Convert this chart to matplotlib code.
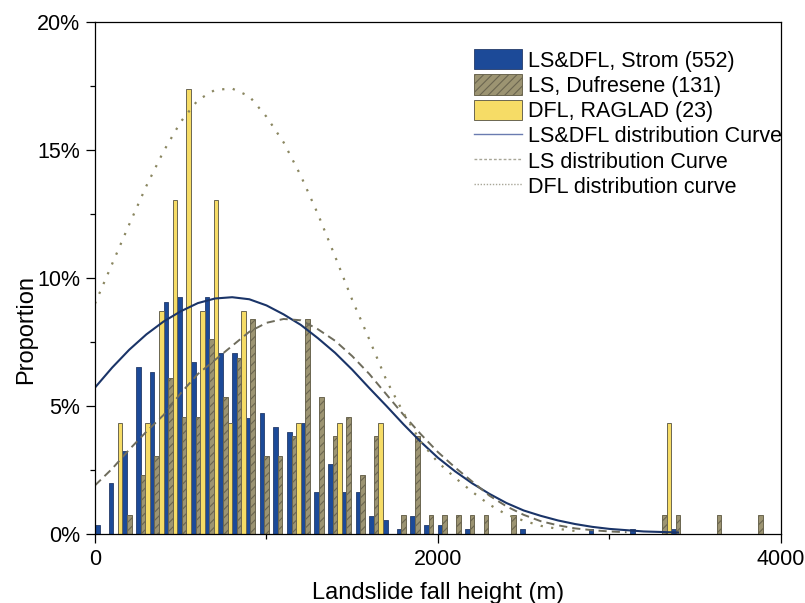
import numpy as np
import matplotlib
matplotlib.use('Agg')
import matplotlib.pyplot as plt
from matplotlib.lines import Line2D
from matplotlib.ticker import FuncFormatter, MultipleLocator

plt.rcParams['font.family'] = ['Liberation Sans', 'DejaVu Sans']
plt.rcParams['hatch.linewidth'] = 0.8

## histogram bins: 80 m wide, 0 - 4000 m
bin_width = 80
n_bins = 50
bin_left = np.arange(n_bins) * bin_width

# proportion of events per bin (%)
strom = [0.36, 1.99, 3.26, 6.52, 6.34, 9.06, 9.24, 6.70, 9.24, 7.07,
         7.07, 4.53, 4.71, 4.17, 3.99, 4.35, 1.63, 2.72, 1.63, 1.63,
         0.72, 0.54, 0.18, 0.72, 0.36, 0.36, 0.00, 0.18, 0.00, 0.00,
         0.00, 0.18, 0.00, 0.00, 0.00, 0.00, 0.18, 0.00, 0.00, 0.18,
         0.00, 0.00, 0.18, 0.00, 0.00, 0.00, 0.00, 0.00, 0.00, 0.00]
dufresene = [0.00, 0.00, 0.76, 2.29, 3.05, 6.11, 4.58, 4.58, 7.63, 5.34,
             6.87, 8.40, 3.05, 3.05, 3.82, 8.40, 5.34, 3.82, 4.58, 2.29,
             3.82, 0.00, 0.76, 3.82, 0.76, 0.76, 0.76, 0.76, 0.76, 0.00,
             0.76, 0.00, 0.00, 0.00, 0.00, 0.00, 0.00, 0.00, 0.00, 0.00,
             0.00, 0.76, 0.76, 0.00, 0.00, 0.76, 0.00, 0.00, 0.76, 0.00]
raglad = [0.00, 4.35, 0.00, 4.35, 8.70, 13.04, 17.39, 8.70, 13.04, 4.35,
          8.70, 0.00, 0.00, 0.00, 4.35, 0.00, 0.00, 4.35, 0.00, 0.00,
          4.35, 0.00, 0.00, 0.00, 0.00, 0.00, 0.00, 0.00, 0.00, 0.00,
          0.00, 0.00, 0.00, 0.00, 0.00, 0.00, 0.00, 0.00, 0.00, 0.00,
          0.00, 4.35, 0.00, 0.00, 0.00, 0.00, 0.00, 0.00, 0.00, 0.00]

# fitted distribution curves, sampled every 100 m (%)
x_all = np.arange(0, 3500, 100)
curve_all = [5.72, 6.50, 7.20, 7.80, 8.30, 8.70, 9.02, 9.20, 9.25, 9.17,
             8.93, 8.58, 8.17, 7.65, 7.08, 6.42, 5.70, 5.00, 4.28, 3.60,
             2.98, 2.45, 1.98, 1.57, 1.21, 0.92, 0.71, 0.53, 0.39, 0.28,
             0.20, 0.15, 0.10, 0.08, 0.06]
x_ls = np.arange(0, 3200, 100)
curve_ls = [1.90, 2.55, 3.30, 4.00, 4.65, 5.50, 6.25, 6.80, 7.35, 7.90,
            8.25, 8.40, 8.35, 8.00, 7.55, 6.95, 6.25, 5.45, 4.65, 3.90,
            3.20, 2.60, 2.05, 1.50, 1.08, 0.75, 0.50, 0.34, 0.22, 0.15,
            0.10, 0.07]
x_dfl = np.arange(0, 2900, 100)
curve_dfl = [9.00, 10.55, 12.10, 13.60, 14.95, 16.10, 16.95, 17.35, 17.40, 17.10,
             16.30, 15.30, 14.00, 12.50, 10.85, 9.15, 7.60, 6.00, 4.72, 3.60,
             2.80, 2.20, 1.65, 1.15, 0.76, 0.52, 0.32, 0.20, 0.12]

labels = ['LS&DFL, Strom (552)', 'LS, Dufresene (131)', 'DFL, RAGLAD (23)',
          'LS&DFL distribution Curve', 'LS distribution Curve', 'DFL distribution curve']

c_blue = '#1c4a98'
c_khaki = '#9c9472'
c_yellow = '#f6dc66'
c_edge = '#6b6650'

fig, ax = plt.subplots(figsize=(8.05, 6.03), dpi=100)
fig.subplots_adjust(left=0.118, right=0.970, bottom=0.1144, top=0.9635)

w = bin_width / 3.0
b1 = ax.bar(bin_left + w * 0.5, strom, width=w, color=c_blue, edgecolor='#243b6a', lw=0.6, zorder=1)
b2 = ax.bar(bin_left + w * 1.5, dufresene, width=w, color=c_khaki, edgecolor=c_edge,
            hatch='////', lw=0.7, zorder=1)
b3 = ax.bar(bin_left + w * 2.5, raglad, width=w, color=c_yellow, edgecolor=c_edge, lw=0.7, zorder=1)

ax.plot(x_all, curve_all, color='#1a3468', lw=1.5, zorder=3)
ax.plot(x_ls, curve_ls, color='#6e6c5c', lw=1.4, ls=(0, (4.2, 2.6)), zorder=3)
ax.plot(x_dfl, curve_dfl, color='#8a8660', lw=1.6, ls=(0, (1, 3.8)), zorder=3)

ax.set_xlim(0, 4000)
ax.set_ylim(0, 20)
ax.xaxis.set_major_locator(MultipleLocator(2000))
ax.xaxis.set_minor_locator(MultipleLocator(1000))
ax.yaxis.set_major_locator(MultipleLocator(5))
ax.yaxis.set_minor_locator(MultipleLocator(2.5))
ax.yaxis.set_major_formatter(FuncFormatter(lambda v, p: '%d%%' % v))
ax.tick_params(which='major', direction='out', length=6.5, width=0.9, labelsize=15.5, pad=4)
ax.tick_params(which='minor', direction='out', length=3.8, width=0.9)
ax.tick_params(top=False, right=False, which='both')
for sp in ax.spines.values():
    sp.set_linewidth(0.9)
    sp.set_zorder(4)

ax.set_xlabel('Landslide fall height (m)', fontsize=17, labelpad=9)
ax.set_ylabel('Proportion', fontsize=17)
ax.yaxis.set_label_coords(-0.085, 0.40)

# thin proxy lines for the curve entries
h4 = Line2D([], [], color='#6a7bb0', lw=1.0)
h5 = Line2D([], [], color='#a8a698', lw=1.0, ls=(0, (2, 1.5)))
h6 = Line2D([], [], color='#a8a698', lw=1.0, ls=(0, (1, 1.2)))
ax.legend([b1, b2, b3, h4, h5, h6], labels, loc='upper left',
          bbox_to_anchor=(0.5525, 0.947), frameon=False, fontsize=15.5,
          handlelength=2.23, handleheight=1.07, handletextpad=0.28,
          labelspacing=0.13, borderpad=0, borderaxespad=0)

fig.savefig('out.png', dpi=100)
